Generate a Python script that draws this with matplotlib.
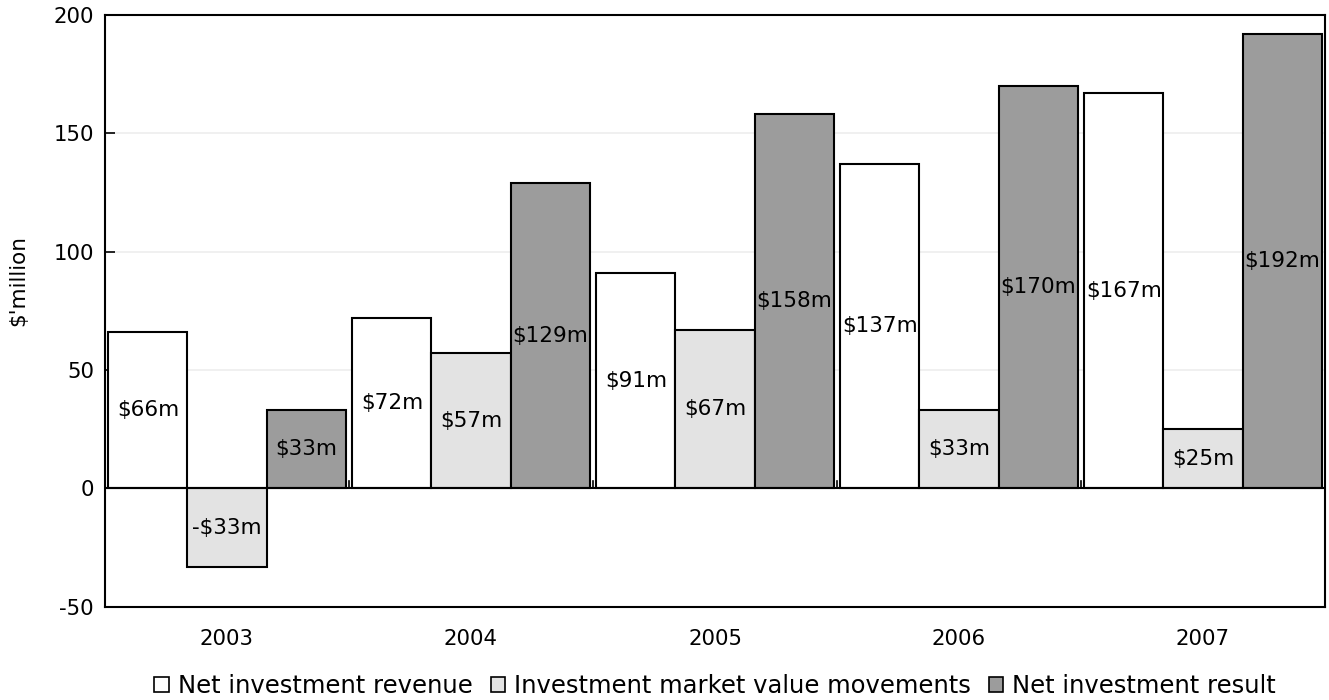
import numpy as np
import matplotlib
matplotlib.use("Agg")
from matplotlib import pyplot as plt
from matplotlib.patches import Patch

years = ["2003", "2004", "2005", "2006", "2007"]
net_revenue = [66, 72, 91, 137, 167]
market_moves = [-33, 57, 67, 33, 25]
net_result = [33, 129, 158, 170, 192]

series_names = ["Net investment revenue",
                "Investment market value movements",
                "Net investment result"]
series_colors = ["#ffffff", "#e3e3e3", "#9c9c9c"]

plt.rcParams['font.family'] = ['DejaVu Sans']

fig = plt.figure(figsize=(13.29, 7.0), dpi=100)
ax = fig.add_axes([0.079, 0.133, 0.918, 0.846])

x = np.arange(len(years))
width = 0.324
all_series = [net_revenue, market_moves, net_result]

for i, vals in enumerate(all_series):
    pos = x + (i - 1) * width
    bars = ax.bar(pos, vals, width, color=series_colors[i],
                  edgecolor="black", linewidth=1.5, zorder=3)
    for b, v in zip(bars, vals):
        label = "$%dm" % v if v >= 0 else "-$%dm" % abs(v)
        ax.text(b.get_x() + b.get_width() / 2, v / 2, label,
                ha="center", va="center", fontsize=15.5, zorder=4)

ax.set_xlim(-0.5, len(years) - 0.5)
ax.set_ylim(-50, 200)
ax.set_yticks([-50, 0, 50, 100, 150, 200])
ax.set_yticklabels(["-50", "0", "50", "100", "150", "200"])
ax.yaxis.grid(True, color="#eeeeee", linewidth=1.2, zorder=0)
ax.set_axisbelow(True)

# zero line plus category separators on it
ax.axhline(0, color="black", linewidth=1.5, zorder=5)
for b in np.arange(0.5, len(years) - 0.5, 1.0):
    ax.plot([b, b], [0, 3], color="black", linewidth=1.2, zorder=5)

ax.set_xticks(x)
ax.set_xticklabels(years)
ax.tick_params(axis="x", length=0, pad=16, labelsize=15.3)
ax.tick_params(axis="y", direction="in", length=7, width=1.2, labelsize=15.3, pad=8)

for s in ax.spines.values():
    s.set_linewidth(1.5)

ax.set_ylabel("$'million", fontsize=15.5)
ax.yaxis.set_label_coords(-0.063, 0.552)

# legend sits centred under the plot area
handles = [Patch(facecolor=c, edgecolor="black", linewidth=1.2) for c in series_colors]
fig.legend(handles, series_names, loc="center", bbox_to_anchor=(0.538, 0.02),
           ncol=3, frameon=False, fontsize=17.5, handlelength=0.6, handleheight=0.6,
           handletextpad=0.35, columnspacing=0.75, borderpad=0)

plt.savefig("out.png", dpi=100)
